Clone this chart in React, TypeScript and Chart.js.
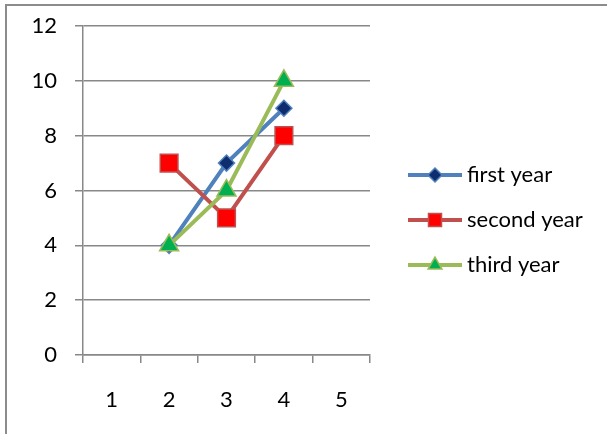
import React, { useEffect, useRef } from 'react';
import { Chart, registerables } from 'chart.js';

Chart.register(...registerables);

// Category labels on the x axis and the three yearly series
const categories = ['1', '2', '3', '4', '5'];
const firstYear = [null, 4, 7, 9, null];
const secondYear = [null, 7, 5, 8, null];
const thirdYear = [null, 4, 6, 10, null];
const seriesNames = ['first year', 'second year', 'third year'];
const yMin = 0;
const yMax = 12;
const yStep = 2;

const FONT = 'Lato, "Open Sans", sans-serif';
const TICK_SIZE = 22;
const LEGEND_SIZE = 22;
const GRID = '#888888';

type Marker = 'diamond' | 'square' | 'triangle';

const seriesStyle: { line: string; marker: Marker; fill: string; border: string; legendR: number }[] = [
  { line: '#4f81bd', marker: 'diamond', fill: '#0e2d6e', border: '#4f81bd', legendR: 7 },
  { line: '#c0504d', marker: 'square', fill: '#ff0000', border: '#c0504d', legendR: 6.5 },
  { line: '#9bbb59', marker: 'triangle', fill: '#00b050', border: '#9bbb59', legendR: 8 },
];

function markerPath(ctx: CanvasRenderingContext2D, kind: Marker, cx: number, cy: number, r: number) {
  ctx.beginPath();
  if (kind === 'diamond') {
    ctx.moveTo(cx, cy - r);
    ctx.lineTo(cx + r, cy);
    ctx.lineTo(cx, cy + r);
    ctx.lineTo(cx - r, cy);
  } else if (kind === 'square') {
    ctx.rect(cx - r, cy - r, 2 * r, 2 * r);
  } else {
    const h = r * 1.5;
    ctx.moveTo(cx, cy - (h * 2) / 3);
    ctx.lineTo(cx + r * 0.866, cy + h / 3);
    ctx.lineTo(cx - r * 0.866, cy + h / 3);
  }
  ctx.closePath();
}

// Chart border: grey rule along the left and top edges, on a white ground
const framePlugin = {
  id: 'frame',
  beforeDraw(chart: any) {
    const { ctx, width, height } = chart;
    ctx.save();
    ctx.fillStyle = '#ffffff';
    ctx.fillRect(0, 0, width, height);
    ctx.strokeStyle = '#8c8c8c';
    ctx.lineWidth = 2;
    ctx.beginPath();
    ctx.moveTo(6, height);
    ctx.lineTo(6, 5);
    ctx.lineTo(width, 5);
    ctx.stroke();
    ctx.restore();
  },
};

// Legend to the right of the plot: line segment with its marker, then the series name
const lineLegendPlugin = {
  id: 'lineLegend',
  afterDraw(chart: any) {
    const { ctx, chartArea } = chart;
    const datasets = chart.data.datasets;
    const x0 = chartArea.right + 38;
    const x1 = x0 + 54;
    const mid = (x0 + x1) / 2;
    const rowGap = 45;
    const yStart = chart.height / 2 - (rowGap * (datasets.length - 1)) / 2 + 3;
    ctx.save();
    datasets.forEach((ds: any, i: number) => {
      const st = seriesStyle[i];
      const y = yStart + i * rowGap;
      ctx.strokeStyle = st.line;
      ctx.lineWidth = 4;
      ctx.beginPath();
      ctx.moveTo(x0, y);
      ctx.lineTo(x1, y);
      ctx.stroke();
      markerPath(ctx, st.marker, mid, y, st.legendR);
      ctx.fillStyle = st.fill;
      ctx.fill();
      ctx.lineWidth = 1.5;
      ctx.strokeStyle = st.border;
      ctx.stroke();
      ctx.fillStyle = '#000';
      ctx.font = `${LEGEND_SIZE}px ${FONT}`;
      ctx.textAlign = 'left';
      ctx.textBaseline = 'middle';
      ctx.fillText(ds.label, x1 + 5, y);
    });
    ctx.restore();
  },
};

export default function App() {
  const ref = useRef<HTMLCanvasElement | null>(null);

  useEffect(() => {
    const canvas = ref.current;
    if (!canvas) return;

    const chart = new Chart(canvas, {
      type: 'line',
      data: {
        labels: categories,
        datasets: [
          {
            label: seriesNames[0],
            data: firstYear,
            borderColor: seriesStyle[0].line,
            borderWidth: 4,
            pointStyle: 'rectRot',
            pointRadius: 8,
            pointBackgroundColor: seriesStyle[0].fill,
            pointBorderColor: seriesStyle[0].border,
            pointBorderWidth: 1.5,
            order: 3,
          },
          {
            label: seriesNames[1],
            data: secondYear,
            borderColor: seriesStyle[1].line,
            borderWidth: 4,
            pointStyle: 'rect',
            pointRadius: 12.5,
            pointBackgroundColor: seriesStyle[1].fill,
            pointBorderColor: seriesStyle[1].border,
            pointBorderWidth: 1.5,
            order: 2,
          },
          {
            label: seriesNames[2],
            data: thirdYear,
            borderColor: seriesStyle[2].line,
            borderWidth: 4,
            pointStyle: 'triangle',
            pointRadius: 11,
            pointBackgroundColor: seriesStyle[2].fill,
            pointBorderColor: seriesStyle[2].border,
            pointBorderWidth: 1.5,
            order: 1,
          },
        ],
      },
      options: {
        responsive: false,
        maintainAspectRatio: false,
        devicePixelRatio: 1,
        animation: false,
        layout: { padding: { top: 26, bottom: 21, left: 0, right: 237 } },
        plugins: {
          tooltip: { enabled: false },
          legend: { display: false },
        },
        scales: {
          x: {
            offset: true,
            grid: {
              display: true,
              drawOnChartArea: false,
              drawTicks: true,
              tickLength: 8,
              offset: true,
              color: GRID,
              lineWidth: 1.5,
            },
            border: { display: true, color: GRID, width: 1.5 },
            ticks: { padding: 24, color: '#000', font: { family: FONT, size: TICK_SIZE } },
            afterFit: (s: any) => {
              s.height = 58;
            },
          },
          y: {
            min: yMin,
            max: yMax,
            grid: { color: GRID, lineWidth: 1.5, tickLength: 8 },
            border: { display: true, color: GRID, width: 1.5 },
            ticks: { stepSize: yStep, padding: 18, color: '#000', font: { family: FONT, size: TICK_SIZE } },
            afterFit: (s: any) => {
              s.width = 83;
              // keep the label overhang from pushing the plot top down
              s.paddingTop = 12;
              s.paddingBottom = 12;
            },
          },
        },
      },
      plugins: [framePlugin, lineLegendPlugin],
    });

    return () => chart.destroy();
  }, []);

  return (
    <div style={{ position: 'absolute', left: 0, top: 0, width: 607, height: 434 }}>
      <canvas ref={ref} width={607} height={434} style={{ width: 607, height: 434, display: 'block' }} />
    </div>
  );
}
